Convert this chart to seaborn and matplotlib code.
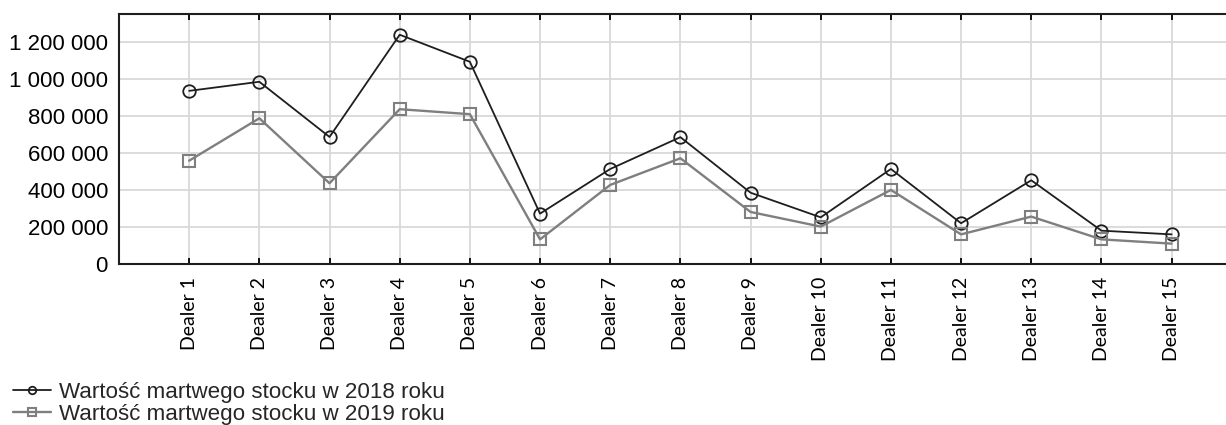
import pandas as pd
import matplotlib
matplotlib.use("Agg")
import matplotlib.pyplot as plt
import seaborn as sns
from matplotlib.ticker import FuncFormatter, MultipleLocator

dealers = ["Dealer %d" % i for i in range(1, 16)]
stock_2018 = [935000, 984000, 686000, 1238000, 1092000, 272000, 513000, 685000,
              385000, 252000, 513000, 220000, 452000, 180000, 160000]
stock_2019 = [558000, 787000, 436000, 836000, 809000, 133000, 427000, 571000,
              281000, 202000, 400000, 160000, 256000, 133000, 110000]
label_2018 = "Wartość martwego stocku w 2018 roku"
label_2019 = "Wartość martwego stocku w 2019 roku"

sns.set_theme(style="whitegrid")
plt.rcParams["font.family"] = ["Liberation Sans", "DejaVu Sans"]

fig = plt.figure(figsize=(12.26, 4.25), dpi=100)
ax = fig.add_axes([119 / 1226, 161 / 425, 1107 / 1226 + 0.01, 250 / 425])

df = pd.DataFrame({"dealer": dealers, "y2018": stock_2018, "y2019": stock_2019})
df["pos"] = range(len(df))

sns.lineplot(data=df, x="pos", y="y2018", ax=ax, color="#1e1e1e", lw=1.3,
             marker="o", ms=9, mfc="none", mec="#1e1e1e", mew=1.3, label=label_2018)
sns.lineplot(data=df, x="pos", y="y2019", ax=ax, color="#7f7f7f", lw=1.7,
             marker="s", ms=9, mfc="none", mec="#7f7f7f", mew=1.5, label=label_2019)

ax.set_xlim(-1, 14.95)
ax.set_ylim(0, 1350000)
ax.set_xticks(df["pos"])
ax.set_xticklabels(dealers, rotation=90, fontsize=14, family=["Lato", "DejaVu Sans"])
ax.yaxis.set_major_locator(MultipleLocator(200000))
ax.yaxis.set_major_formatter(FuncFormatter(lambda v, p: f"{v:,.0f}".replace(",", " ")))
ax.tick_params(axis="y", length=0, pad=8, labelsize=16, colors="black")
ax.tick_params(axis="x", direction="in", length=4, width=1.3, pad=9, colors="black",
               top=True, bottom=True)
ax.set_xlabel("")
ax.set_ylabel("")
ax.grid(True, color="#d9d9d9", lw=1.3)

for side in ["left", "top", "bottom"]:
    ax.spines[side].set_color("#1e1e1e")
    ax.spines[side].set_linewidth(1.5)
ax.spines["right"].set_visible(False)

handles, labels = ax.get_legend_handles_labels()
ax.legend_.remove()
fig.legend(handles, labels, loc="lower left", bbox_to_anchor=(-0.002, -0.036),
           frameon=False, fontsize=16.1, handlelength=1.7, handletextpad=0.35,
           labelspacing=0.05, borderpad=0.2, markerscale=0.6)

fig.savefig("out.png", dpi=100)
